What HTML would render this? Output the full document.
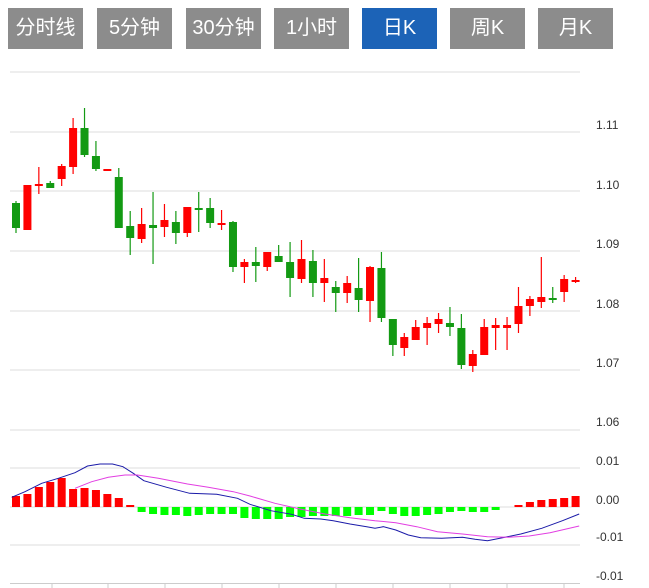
<!DOCTYPE html>
<html><head><meta charset="utf-8"><style>
body{margin:0;width:649px;height:588px;background:#fff;overflow:hidden;font-family:"Liberation Sans","Noto Sans CJK SC",sans-serif}
.b{position:absolute;top:8px;height:41px;width:75px;background:#8c8c8c;color:#fff;font-size:20px;line-height:41px;text-align:center}
.on{background:#1c63b7}
svg{position:absolute;left:0;top:0}
</style></head><body>
<div class="b" style="left:8px">分时线</div>
<div class="b" style="left:97px">5分钟</div>
<div class="b" style="left:186px">30分钟</div>
<div class="b" style="left:274px">1小时</div>
<div class="b on" style="left:362px">日K</div>
<div class="b" style="left:450px">周K</div>
<div class="b" style="left:538px">月K</div>
<svg id="s" width="649" height="588" xmlns="http://www.w3.org/2000/svg" font-family="Liberation Sans, sans-serif" font-size="12" fill="#333"></svg>
<script>
var s=document.getElementById('s'),h='';
[72,132,191,251,311,370,430,468,507,545].forEach(function(y){h+='<line x1="10" x2="580" y1="'+y+'" y2="'+y+'" stroke="#ddd" stroke-width="1"/>';});
[['1.11',129],['1.10',189],['1.09',248],['1.08',308],['1.07',367],['1.06',426],['0.01',465],['0.00',504],['-0.01',541],['-0.01',580]].forEach(function(l){h+='<text x="596" y="'+l[1]+'">'+l[0]+'</text>';});
h+='<line x1="10" x2="580" y1="583.5" y2="583.5" stroke="#ccc"/>';
[52,108,165,222,279,336,393,450,507,564].forEach(function(x){h+='<line x1="'+x+'" x2="'+x+'" y1="583" y2="588" stroke="#ccc"/>';});
var c=[['g',203,228,201,233],['r',185,230,185,230],['r',184,186,167,194],['g',183,188,181,188],['r',166,179,164,186],['r',128,167,118,174],['g',128,155,108,157],['g',156,169,141,171],['r',169,170,169,170],['g',177,228,168,228],
['g',226,238,211,255],['r',224,239,208,243],['g',225,228,192,264],['r',220,227,204,237],['g',222,233,211,244],['r',207,233,207,237],['g',208,209,192,232],['g',208,223,198,228],['r',223,224,210,230],['g',222,267,221,272],
['r',262,267,259,283],['g',262,266,247,282],['r',252,267,252,271],['g',256,262,245,262],['g',262,278,242,297],['r',259,279,240,283],['g',261,283,250,297],['r',278,283,259,302],['g',287,293,281,312],['r',283,293,276,303],
['g',288,300,258,312],['r',267,301,266,322],['g',268,318,252,322],['g',319,345,319,356],['r',337,348,333,356],['r',327,340,320,340],['r',323,328,317,345],['r',319,324,313,333],['g',323,327,307,336],['g',328,365,314,369],
['r',354,366,350,372],['r',327,355,319,355],['r',325,328,318,350],['r',325,328,317,350],['r',306,324,287,333],['r',299,306,296,316],['r',297,302,257,308],['g',298,299,287,303],['r',279,292,275,302],['r',280,281,277,283]];
c.forEach(function(d,i){var x=16+11.42*i,col=d[0]=='r'?'#f00':'#139a13';
h+='<line x1="'+x+'" x2="'+x+'" y1="'+d[3]+'" y2="'+d[4]+'" stroke="'+col+'" stroke-width="1.2"/>';
var bh=Math.max(d[2]-d[1],2);h+='<rect x="'+(x-4)+'" y="'+d[1]+'" width="8" height="'+bh+'" fill="'+col+'"/>';});
var m=[11,13,20,25,29,18,19,17,13,9,2,-5,-7,-8,-8,-9,-8,-7,-7,-7,-11,-12,-12,-12,-10,-10,-9,-9,-9,-9,-8,-8,-4,-7,-9,-9,-8,-7,-5,-4,-5,-5,-3,0,2,5,7,8,9,11];
m.forEach(function(v,i){if(!v)return;var x=16+11.42*i;
if(v>0)h+='<rect x="'+(x-4)+'" y="'+(507-v)+'" width="8" height="'+v+'" fill="#f00"/>';
else h+='<rect x="'+(x-4)+'" y="507" width="8" height="'+(-v)+'" fill="#0f0"/>';});
function pl(p,col){var q=p.map(function(a){return (a[0]/2.4).toFixed(1)+','+(450+a[1]/3).toFixed(1)}).join(' ');
return '<polyline points="'+q+'" fill="none" stroke="'+col+'" stroke-width="1"/>';}
h+=pl([[28,142],[60,125],[100,100],[140,85],[180,68],[210,48],[240,42],[270,42],[295,50],[320,70],[345,92],[400,112],[455,130],[520,133],[570,145],[600,163],[650,182],[700,193],[730,205],[770,207],[800,212],[840,222],[880,230],[900,235],[920,230],[950,240],[980,255],[1010,263],[1060,265],[1110,262],[1140,268],[1170,272],[1200,265],[1250,252],[1300,235],[1350,212],[1390,192]],'#1a1aa8');
h+=pl([[180,115],[220,95],[260,82],[300,75],[330,75],[380,85],[450,102],[500,112],[560,125],[600,138],[660,160],[720,177],[780,192],[840,203],[900,212],[950,218],[1000,230],[1050,245],[1110,252],[1170,260],[1220,262],[1270,258],[1320,248],[1390,228]],'#e23ee2');
s.innerHTML=h;
</script>
</body></html>
